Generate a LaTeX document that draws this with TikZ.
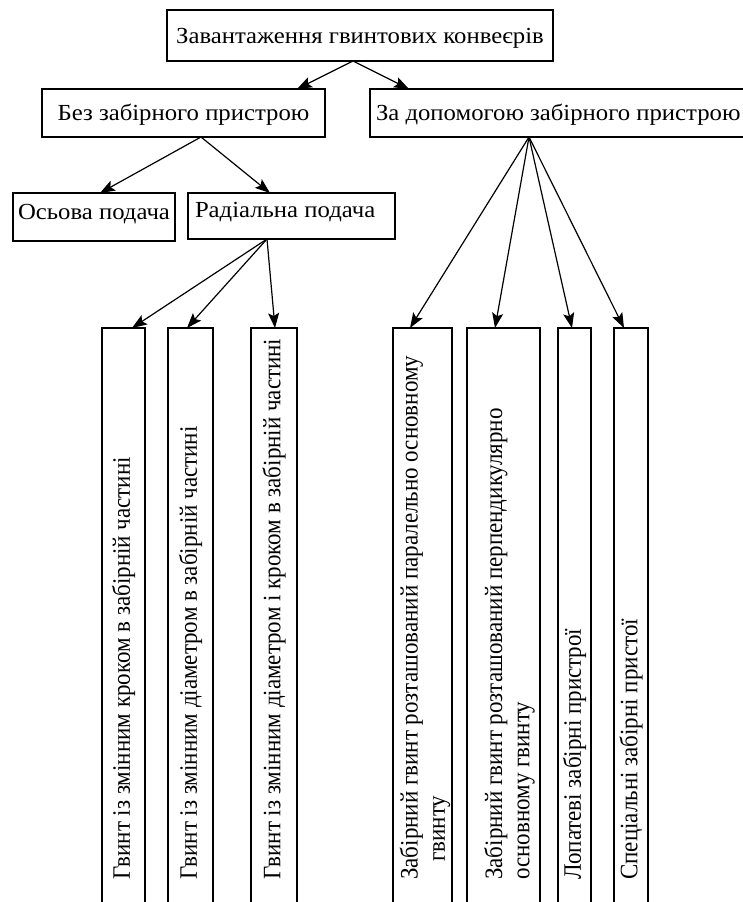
\documentclass[tikz,border=0pt]{standalone}
\usepackage{fontspec}
\setmainfont{Liberation Serif}
\newfontfamily\widefont[FakeStretch=1.075]{Liberation Serif}
\usetikzlibrary{arrows.meta}

\begin{document}
\begin{tikzpicture}[x=1pt,y=-1pt,>={Stealth[length=15pt,width=11pt,inset=3pt]},
  box/.style={draw,line width=2.8pt,inner sep=0pt,outer sep=0pt,anchor=north west,
    text height=15.2pt,text depth=0pt,font=\widefont\fontsize{23}{25}\selectfont},
  strip/.style={draw,line width=2.8pt,inner sep=0pt,outer sep=0pt,anchor=north west},
  vlab/.style={rotate=90,yscale=1.09,anchor=west,inner sep=0pt,align=flush left,
    font=\fontsize{23}{25}\selectfont},
  feed/.style={->,line width=1.2pt}]
\useasboundingbox (0,0) rectangle (743,902);
% upper levels
\node[box,minimum width=386pt,minimum height=51pt] (load) at (167,10) {Завантаження гвинтових конвеєрів};
\node[box,minimum width=283pt,minimum height=48pt] (nodev) at (42,89) {Без забірного пристрою};
\node[box,minimum height=48pt,text width=386pt,inner xsep=6pt,align=flush left] (withdev) at (370,89) {За допомогою забірного пристрою};
\node[box,minimum width=162pt,minimum height=48pt,text depth=10pt] (axial) at (13,193) {Осьова подача};
\node[box,minimum height=46pt,text width=193pt,inner xsep=7pt,align=flush left,text depth=12pt] (radial) at (188,193) {Радіальна подача};
% vertical strips
\node[strip,minimum width=43pt,minimum height=600pt] (s1) at (102,328) {};
\node[strip,minimum width=45pt,minimum height=600pt] (s2) at (168,328) {};
\node[strip,minimum width=46pt,minimum height=600pt] (s3) at (251,328) {};
\node[strip,minimum width=59pt,minimum height=600pt] (s4) at (393,328) {};
\node[strip,minimum width=73pt,minimum height=600pt] (s5) at (467,328) {};
\node[strip,minimum width=33pt,minimum height=600pt] (s6) at (558,328) {};
\node[strip,minimum width=34pt,minimum height=600pt] (s7) at (614,328) {};
\node[vlab] (l1) at (123.5,880) {Гвинт із змінним кроком в забірній частині};
\node[vlab] (l2) at (190.5,880) {Гвинт із змінним діаметром в забірній частині};
\node[vlab] (l3) at (274,880) {Гвинт із змінним діаметром і кроком в забірній частині};
\node[vlab] (l4) at (425,880) {Забірний гвинт розташований паралельно основному\\\hspace*{18pt}гвинту};
\node[vlab] (l5) at (509.5,880) {Забірний гвинт розташований перпендикулярно\\основному гвинту};
\node[vlab] (l6) at (574.5,880) {Лопатеві забірні пристрої};
\node[vlab] (l7) at (631,880) {Спеціальні забірні пристої};
% connectors
\draw[feed] ([xshift=-7pt]load.south) -- ([xshift=113.5pt]nodev.north);
\draw[feed] ([xshift=-7pt]load.south) -- ([xshift=-160pt]withdev.north);
\draw[feed] ([xshift=17.5pt]nodev.south) -- ([xshift=6pt]axial.north);
\draw[feed] ([xshift=17.5pt]nodev.south) -- ([xshift=-21.5pt]radial.north);
\draw[feed] ([xshift=-24.5pt]radial.south) -- ([xshift=8.5pt]s1.north);
\draw[feed] ([xshift=-24.5pt]radial.south) -- ([xshift=-3.5pt]s2.north);
\draw[feed] ([xshift=-24.5pt]radial.south) -- ([xshift=1pt]s3.north);
\draw[feed] ([xshift=-40pt]withdev.south) -- ([xshift=-12.5pt]s4.north);
\draw[feed] ([xshift=-40pt]withdev.south) -- ([xshift=-8.5pt]s5.north);
\draw[feed] ([xshift=-40pt]withdev.south) -- ([xshift=-2.5pt]s6.north);
\draw[feed] ([xshift=-40pt]withdev.south) -- ([xshift=-7pt]s7.north);
\end{tikzpicture}
\end{document}
